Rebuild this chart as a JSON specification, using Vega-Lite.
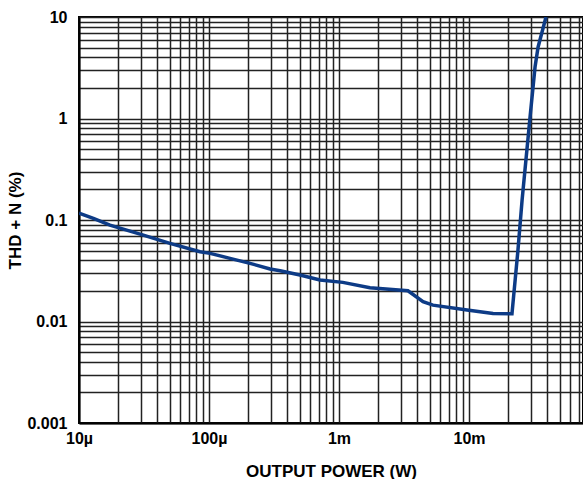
{
  "$schema": "https://vega.github.io/schema/vega-lite/v6.json",
  "width": 504,
  "height": 406,
  "autosize": "none",
  "padding": {"left": 79, "top": 17, "right": 0, "bottom": 56},
  "config": {
    "view": {"stroke": "#000", "strokeWidth": 2},
    "font": "Liberation Sans"
  },
  "data": {
    "values": [
      {"p": 0.00001, "thd": 0.117},
      {"p": 0.0000129, "thd": 0.104},
      {"p": 0.0000173, "thd": 0.089},
      {"p": 0.0000295, "thd": 0.0726},
      {"p": 0.0000501, "thd": 0.0589},
      {"p": 0.0000853, "thd": 0.0486},
      {"p": 0.000102, "thd": 0.0469},
      {"p": 0.000145, "thd": 0.0419},
      {"p": 0.000207, "thd": 0.0374},
      {"p": 0.000295, "thd": 0.0329},
      {"p": 0.000352, "thd": 0.0316},
      {"p": 0.000501, "thd": 0.0287},
      {"p": 0.000714, "thd": 0.0256},
      {"p": 0.00107, "thd": 0.0243},
      {"p": 0.00173, "thd": 0.0215},
      {"p": 0.00339, "thd": 0.0201},
      {"p": 0.00443, "thd": 0.0157},
      {"p": 0.00528, "thd": 0.0145},
      {"p": 0.00966, "thd": 0.013},
      {"p": 0.0153, "thd": 0.012},
      {"p": 0.0214, "thd": 0.0119},
      {"p": 0.0238, "thd": 0.0506},
      {"p": 0.0256, "thd": 0.157},
      {"p": 0.0295, "thd": 1.04},
      {"p": 0.0322, "thd": 3.22},
      {"p": 0.034, "thd": 5.07},
      {"p": 0.0391, "thd": 10}
    ]
  },
  "mark": {"type": "line", "color": "#0d3b86", "strokeWidth": 3.5, "clip": true},
  "encoding": {
    "x": {
      "field": "p",
      "type": "quantitative",
      "scale": {"type": "log", "domain": [0.00001, 0.0753], "nice": false},
      "axis": {
        "title": "OUTPUT POWER (W)",
        "titleFont": "Liberation Sans",
        "titleFontSize": 17,
        "titleFontWeight": "bold",
        "titleColor": "#000",
        "titlePadding": 17,
        "values": [0.00001, 0.00002, 0.00003, 0.00004, 0.00005, 0.00006, 0.00007, 0.00008, 0.00009,
                   0.0001, 0.0002, 0.0003, 0.0004, 0.0005, 0.0006, 0.0007, 0.0008, 0.0009,
                   0.001, 0.002, 0.003, 0.004, 0.005, 0.006, 0.007, 0.008, 0.009,
                   0.01, 0.02, 0.03, 0.04, 0.05, 0.06, 0.07],
        "labelExpr": "datum.value==0.00001?'10µ':datum.value==0.0001?'100µ':datum.value==0.001?'1m':datum.value==0.01?'10m':''",
        "labelFont": "Liberation Sans",
        "labelFontSize": 16,
        "labelFontWeight": "bold",
        "labelColor": "#000",
        "labelPadding": 7,
        "labelOverlap": false,
        "labelFlush": false,
        "ticks": false,
        "grid": true,
        "gridColor": "#222",
        "gridWidth": 1.5,
        "gridOpacity": 1,
        "domainColor": "#000",
        "domainWidth": 2
      }
    },
    "y": {
      "field": "thd",
      "type": "quantitative",
      "scale": {"type": "log", "domain": [0.001, 10], "nice": false},
      "axis": {
        "title": "THD + N (%)",
        "titleFont": "Liberation Sans",
        "titleFontSize": 17,
        "titleFontWeight": "bold",
        "titleColor": "#000",
        "titlePadding": 2,
        "values": [0.001, 0.002, 0.003, 0.004, 0.005, 0.006, 0.007, 0.008, 0.009,
                   0.01, 0.02, 0.03, 0.04, 0.05, 0.06, 0.07, 0.08, 0.09,
                   0.1, 0.2, 0.3, 0.4, 0.5, 0.6, 0.7, 0.8, 0.9,
                   1, 2, 3, 4, 5, 6, 7, 8, 9, 10],
        "labelExpr": "datum.value==0.001?'0.001':datum.value==0.01?'0.01':datum.value==0.1?'0.1':datum.value==1?'1':datum.value==10?'10':''",
        "labelFont": "Liberation Sans",
        "labelFontSize": 16,
        "labelFontWeight": "bold",
        "labelColor": "#000",
        "labelPadding": 12,
        "labelOverlap": false,
        "labelFlush": false,
        "ticks": false,
        "grid": true,
        "gridColor": "#222",
        "gridWidth": 1.5,
        "gridOpacity": 1,
        "domainColor": "#000",
        "domainWidth": 2
      }
    }
  }
}
